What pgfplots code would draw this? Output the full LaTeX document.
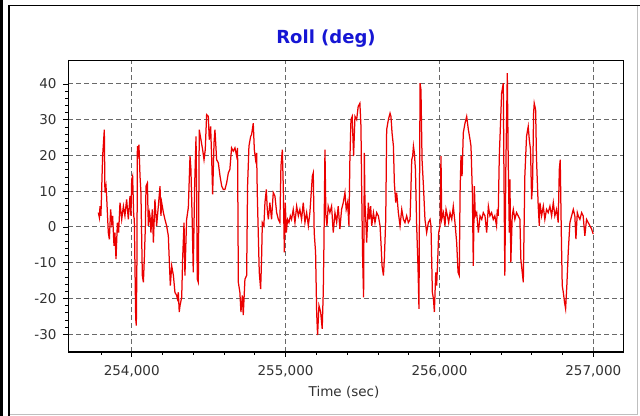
\documentclass[border=0pt]{standalone}
\usepackage{fontspec}
\setmainfont{DejaVu Sans}
\usepackage{pgfplots}
\pgfplotsset{compat=1.18}
\definecolor{titleblue}{RGB}{22,22,212}
\definecolor{ticktext}{RGB}{50,50,50}
\definecolor{gridgray}{RGB}{105,105,105}
\definecolor{sigred}{RGB}{235,0,0}
\pgfplotstableread{
x y
253783 4.0
253790 2.6
253794 5.8
253800 3.1
253811 19.8
253822 27.2
253826 9.6
253833 11.4
253837 8.6
253848 -1.6
253855 -3.5
253863 4.9
253870 1.2
253876 3.1
253885 -5.3
253891 -1.6
253898 -9.0
253907 1.2
253915 -1.6
253924 6.8
253935 2.1
253946 5.8
253956 3.1
253967 7.7
253978 2.1
253989 8.6
253995 3.1
254000 13.3
254006 14.2
254013 3.1
254017 2.1
254026 -25.7
254030 -27.6
254034 -9.0
254037 22.6
254043 20.7
254047 23.0
254054 14.2
254060 9.6
254069 -13.6
254076 -15.5
254082 -9.0
254089 0.3
254093 11.4
254102 12.3
254108 0.3
254115 4.0
254119 3.1
254125 -1.6
254134 4.9
254141 -4.4
254151 7.7
254162 0.3
254173 5.8
254184 11.4
254190 3.1
254195 6.8
254206 4.0
254216 2.1
254227 0.3
254238 -2.5
254244 -9.0
254251 -16.4
254260 -10.9
254271 -13.6
254281 -18.3
254292 -19.2
254297 -20.1
254303 -18.3
254309 -23.8
254314 -22.0
254325 -19.7
254331 -9.0
254340 1.2
254346 -13.6
254353 -3.4
254357 2.1
254368 5.4
254379 19.8
254385 16.1
254394 0.3
254400 -12.7
254409 11.4
254418 25.3
254422 9.6
254426 -14.6
254433 -15.5
254439 27.2
254450 24.4
254461 21.6
254470 18.8
254478 21.6
254487 31.4
254498 30.9
254504 24.4
254513 28.1
254520 18.8
254526 9.1
254535 23.5
254541 27.2
254552 18.8
254563 17.9
254574 14.2
254585 11.4
254595 10.5
254606 10.5
254617 12.3
254628 15.1
254638 16.1
254649 22.1
254660 21.2
254671 22.1
254682 19.8
254688 22.1
254693 -15.5
254703 -18.3
254710 -23.8
254719 -19.2
254725 -24.7
254732 -18.3
254736 -14.6
254747 -13.6
254753 11.4
254762 22.6
254773 25.3
254779 25.8
254790 29.0
254797 21.6
254805 18.8
254812 20.7
254816 9.6
254823 -2.5
254829 -12.7
254838 -17.4
254844 -9.0
254849 1.2
254859 0.3
254866 6.8
254875 10.5
254881 4.9
254888 2.1
254898 6.8
254909 2.1
254920 9.6
254931 8.6
254942 4.0
254953 2.1
254963 1.2
254970 17.0
254979 21.6
254985 11.4
254992 -7.1
254998 6.8
255005 -1.6
255013 2.1
255022 1.2
255031 3.1
255039 2.1
255050 4.9
255061 1.2
255072 5.8
255083 3.1
255093 4.9
255104 2.1
255115 6.8
255126 1.2
255137 4.0
255148 0.3
255158 4.0
255174 14.2
255180 15.1
255186 -1.6
255195 -7.1
255202 -23.8
255208 -30.3
255217 -22.0
255228 -23.8
255238 -28.5
255245 -18.3
255249 -6.2
255256 21.6
255262 3.1
255269 0.3
255277 5.8
255288 4.0
255299 5.8
255310 -1.6
255321 4.0
255332 1.2
255342 5.8
255353 -0.6
255364 4.9
255375 6.8
255386 9.6
255394 4.9
255403 6.8
255412 0.3
255418 18.8
255425 30.0
255433 30.9
255442 19.8
255451 30.9
255462 30.0
255472 33.7
255483 34.6
255490 28.1
255494 12.3
255501 -9.0
255507 -19.7
255512 20.7
255516 6.8
255523 0.3
255527 -4.4
255538 6.8
255545 2.1
255553 5.8
255560 0.3
255571 4.0
255581 1.2
255592 4.0
255603 3.1
255614 0.3
255620 -4.4
255627 -10.9
255636 -13.6
255642 -9.0
255651 2.1
255657 27.2
255668 30.0
255679 31.8
255685 30.9
255692 26.3
255701 22.6
255707 12.3
255716 6.8
255722 9.6
255733 4.0
255744 0.3
255755 4.9
255766 2.1
255776 1.2
255787 3.1
255798 1.2
255809 2.1
255820 18.8
255826 19.8
255831 22.6
255837 20.7
255844 16.1
255852 0.3
255861 -11.8
255867 -22.9
255874 40.2
255880 38.3
255887 18.8
255896 11.4
255906 2.1
255917 -1.6
255928 1.2
255939 2.1
255945 0.3
255954 -18.3
255961 -20.1
255967 -23.8
255976 -12.7
255982 -16.4
255989 -9.0
255995 -1.6
256004 0.3
256010 19.8
256015 2.1
256026 4.0
256036 0.3
256043 4.9
256052 3.1
256060 1.2
256069 4.0
256080 2.1
256090 5.8
256101 1.2
256112 -4.4
256121 -12.7
256129 -13.6
256134 9.6
256140 19.8
256147 14.2
256155 26.3
256166 29.0
256177 30.9
256188 27.2
256199 24.4
256205 22.6
256214 9.6
256220 -10.9
256227 11.4
256233 3.1
256242 4.0
256253 -1.6
256264 3.1
256275 2.1
256285 4.0
256296 3.1
256307 -1.6
256318 5.8
256328 3.1
256339 4.0
256350 2.1
256360 3.1
256371 0.3
256376 4.9
256382 3.1
256389 19.8
256397 29.0
256404 37.4
256415 40.2
256419 16.1
256425 -13.6
256432 17.9
256441 43.0
256447 18.8
256454 -1.6
256458 13.3
256464 -9.9
256473 3.1
256480 4.9
256490 2.1
256501 4.0
256512 3.1
256523 2.1
256529 -9.0
256538 -12.7
256545 -15.5
256555 14.2
256566 25.3
256577 28.1
256584 24.4
256592 21.6
256599 7.7
256605 11.4
256612 31.8
256616 34.6
256625 32.8
256631 18.8
256642 5.8
256649 0.3
256653 6.8
256664 3.1
256675 5.8
256685 2.1
256696 4.9
256707 4.0
256718 5.8
256729 3.1
256740 6.8
256750 3.1
256761 4.9
256772 1.2
256779 16.1
256785 18.8
256792 -1.6
256798 -16.4
256805 -18.3
256813 -21.1
256820 -22.9
256828 -16.4
256837 -7.1
256848 1.2
256859 3.1
256870 4.9
256880 3.1
256887 -3.4
256896 4.0
256902 3.1
256913 2.1
256924 4.0
256934 3.1
256945 -2.5
256956 2.1
256967 1.2
256978 0.3
256989 -0.6
256999 -2.0
}\rolldata
\begin{document}
\begin{tikzpicture}
\useasboundingbox (0bp,0bp) rectangle (640bp,416bp);
\fill[white] (0bp,0bp) rectangle (640bp,416bp);
% window frame
\draw[black, line width=2bp] (1.5bp,0bp) -- (1.5bp,416bp);
\draw[black, line width=1.6bp] (8.8bp,0bp) -- (8.8bp,410.6bp) -- (640bp,410.6bp);
\draw[black!25, line width=1bp] (637.5bp,410bp) -- (637.5bp,1.5bp) -- (9.6bp,1.5bp);
\begin{axis}[
  at={(68bp,64bp)}, anchor=south west,
  scale only axis, width=555bp, height=292bp,
  xmin=253586, xmax=257193, ymin=-35, ymax=46.7,
  scaled x ticks=false, scaled y ticks=false,
  xtick={254000,255000,256000,257000},
  xticklabels={{254,000},{255,000},{256,000},{257,000}},
  minor xtick={253800,254200,254400,254600,254800,255200,255400,255600,255800,256200,256400,256600,256800},
  ytick={-30,-20,-10,0,10,20,30,40},
  yticklabels={-30,-20,-10,0,10,20,30,40},
  minor y tick num=4,
  tick pos=left, tick align=outside,
  major tick length=5bp, minor tick length=3bp,
  every tick/.style={black, line width=0.6bp},
  axis line style={black, line width=0.8bp},
  grid=major,
  major grid style={gridgray, dash pattern=on 5bp off 3bp, line width=0.9bp},
  tick label style={font=\fontsize{13.5bp}{15bp}\selectfont, text=ticktext},
  xticklabel style={yshift=-4.5bp},
  yticklabel style={xshift=-3bp},
  clip=true,
]
\addplot[sigred, line width=1.25bp, line join=miter] table[x=x, y=y] {\rolldata};
\draw[black, line width=2.2bp] (axis description cs:0,1) -- (axis description cs:0,0) -- (axis description cs:1,0);
\end{axis}
\node[anchor=base, text=titleblue, font=\fontsize{18bp}{21bp}\selectfont\bfseries] at (326bp,372.5bp) {Roll (deg)};
\node[anchor=base, text=ticktext, font=\fontsize{13.5bp}{16bp}\selectfont] at (344bp,19.5bp) {Time (sec)};
\end{tikzpicture}
\end{document}
